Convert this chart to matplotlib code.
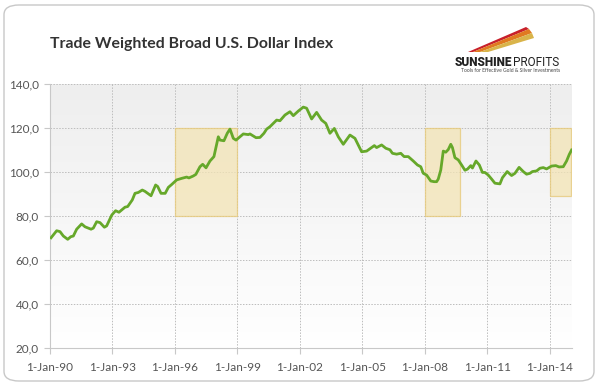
import numpy as np
import matplotlib
matplotlib.use("Agg")
import matplotlib.pyplot as plt
from matplotlib.patches import FancyBboxPatch, Rectangle, Polygon
from matplotlib.colors import LinearSegmentedColormap

# ---- data (decimal year, index value) ----
years = [1990.05, 1990.32, 1990.48, 1990.64, 1990.85, 1991.0, 1991.12, 1991.28, 1991.52, 1991.68,
         1991.97, 1992.08, 1992.24, 1992.4, 1992.61, 1992.72, 1992.97, 1993.15, 1993.31, 1993.6,
         1993.73, 1993.95, 1994.08, 1994.24, 1994.43, 1994.56, 1994.85, 1995.07, 1995.17, 1995.33,
         1995.53, 1995.68, 1995.84, 1996.08, 1996.32, 1996.56, 1996.67, 1996.88, 1997.0, 1997.2,
         1997.33, 1997.49, 1997.68, 1997.87, 1998.08, 1998.16, 1998.35, 1998.51, 1998.64, 1998.8,
         1998.93, 1999.12, 1999.28, 1999.52, 1999.6, 1999.89, 2000.08, 2000.27, 2000.4, 2000.56,
         2000.88, 2001.04, 2001.28, 2001.52, 2001.68, 2001.92, 2002.16, 2002.32, 2002.56, 2002.8,
         2003.04, 2003.24, 2003.44, 2003.65, 2003.84, 2004.08, 2004.4, 2004.64, 2004.96, 2005.2,
         2005.57, 2005.68, 2005.92, 2006.12, 2006.32, 2006.44, 2006.64, 2006.84, 2007.0, 2007.2,
         2007.44, 2007.64, 2007.8, 2007.92, 2008.08, 2008.28, 2008.44, 2008.56, 2008.64, 2008.76,
         2008.88, 2009.0, 2009.12, 2009.24, 2009.32, 2009.44, 2009.6, 2009.76, 2009.92, 2010.04,
         2010.2, 2010.28, 2010.45, 2010.61, 2010.76, 2010.88, 2011.04, 2011.2, 2011.36, 2011.6,
         2011.72, 2011.95, 2012.16, 2012.32, 2012.52, 2012.72, 2012.88, 2013.04, 2013.16, 2013.36,
         2013.52, 2013.68, 2013.84, 2014.08, 2014.28, 2014.44, 2014.64, 2014.8, 2014.93, 2015.04]
values = [70.1, 73.3, 72.9, 70.9, 69.4, 70.6, 70.9, 74.0, 76.4, 75.1,
          74.0, 74.5, 77.4, 77.0, 74.9, 75.5, 80.5, 82.4, 81.7, 84.0,
          84.3, 87.3, 90.3, 90.7, 91.8, 91.2, 89.2, 94.1, 93.4, 90.3,
          90.3, 93.0, 94.3, 96.4, 97.1, 97.7, 97.3, 98.2, 98.9, 102.4,
          103.5, 101.9, 105.0, 107.0, 116.0, 114.5, 114.2, 117.6, 119.5, 115.3,
          114.5, 116.0, 117.3, 117.0, 117.3, 115.6, 115.7, 117.6, 119.5, 120.6,
          123.6, 123.3, 125.9, 127.4, 125.6, 127.7, 129.5, 129.0, 124.1, 127.1,
          123.6, 122.1, 117.6, 119.8, 116.0, 112.6, 116.8, 115.3, 109.2, 109.5,
          112.0, 111.1, 112.3, 110.8, 110.1, 108.5, 108.1, 108.5, 107.0, 107.0,
          105.0, 103.2, 102.4, 99.4, 98.6, 95.9, 95.6, 95.6, 96.8, 100.9,
          109.5, 109.0, 110.2, 112.6, 111.1, 106.5, 105.5, 103.2, 100.8, 101.3,
          102.9, 101.8, 105.0, 103.2, 99.8, 99.8, 98.6, 96.8, 94.9, 94.6,
          97.4, 100.2, 98.4, 99.4, 102.1, 100.2, 99.0, 99.4, 100.2, 100.5,
          101.7, 102.0, 101.4, 102.7, 102.9, 102.3, 102.4, 105.0, 108.0, 110.0]

# highlighted periods: (start year, end year, low value, high value)
box_start = [1996.0, 2008.0, 2014.0]
box_end = [1999.0, 2009.7, 2015.03]
box_low = [80, 80, 89]
box_high = [120, 120, 120]

tick_years = [1990, 1993, 1996, 1999, 2002, 2005, 2008, 2011, 2014]
tick_labels = ["1-Jan-90", "1-Jan-93", "1-Jan-96", "1-Jan-99", "1-Jan-02",
               "1-Jan-05", "1-Jan-08", "1-Jan-11", "1-Jan-14"]
y_ticks = [20, 40, 60, 80, 100, 120, 140]
y_labels = ["20,0", "40,0", "60,0", "80,0", "100,0", "120,0", "140,0"]

title = "Trade Weighted Broad U.S. Dollar Index"

plt.rcParams['font.family'] = ['Lato', 'DejaVu Sans']

fig = plt.figure(figsize=(6.0, 3.85), dpi=100)
fig.patch.set_facecolor("white")

# rounded frame
frame = FancyBboxPatch((4/600, 4/385), 590/600, 376/385,
                       boxstyle="round,pad=0,rounding_size=0.025",
                       transform=fig.transFigure, facecolor="none",
                       edgecolor="#c8c8c8", linewidth=1.0, zorder=0)
fig.patches.append(frame)

ax = fig.add_axes([50/600, 1 - 348/385, 522/600, 264/385])
ax.set_xlim(1990, 2015.06)
ax.set_ylim(20, 140)

# gradient background
grad = np.linspace(0, 1, 256).reshape(-1, 1)
cmap = LinearSegmentedColormap.from_list("bg", ["#ffffff", "#eeeeee"])
ax.imshow(grad, extent=[0, 1, 0, 1], transform=ax.transAxes, cmap=cmap,
          aspect="auto", origin="lower", zorder=0)

# grid
for yt in y_ticks[1:]:
    ax.axhline(yt, color="#bdbdbd", lw=0.7, ls=(0, (1.5, 1.5)), zorder=1)
for xt in tick_years[1:]:
    ax.axvline(xt, color="#bdbdbd", lw=0.7, ls=(0, (1.5, 1.5)), zorder=1)

# boxes
for s, e, lo, hi in zip(box_start, box_end, box_low, box_high):
    ax.add_patch(Rectangle((s, lo), e - s, hi - lo, facecolor="#f3e4b5",
                           edgecolor="#e6c877", lw=0.9, alpha=0.75, zorder=2))

ax.plot(years, values, color="#66a82a", lw=2.0, zorder=3, solid_joinstyle="round")

for sp in ["top", "right"]:
    ax.spines[sp].set_visible(False)
ax.spines["left"].set_color("#c8c8c8")
ax.spines["bottom"].set_color("#c8c8c8")
ax.spines["left"].set_linewidth(0.8)
ax.spines["bottom"].set_linewidth(0.8)

ax.set_xticks(tick_years)
ax.set_xticklabels(tick_labels)
ax.set_yticks(y_ticks)
ax.set_yticklabels(y_labels)
ax.tick_params(axis="both", colors="#c8c8c8", labelcolor="#555555", labelsize=8.5,
               length=4, width=0.8)
ax.tick_params(axis="x", pad=6)
ax.tick_params(axis="y", pad=4)

fig.text(50/600, 1 - 44/385, title, fontsize=11.4, fontweight="bold", color="#333333",
         ha="left", va="center")

# logo
fig.text(512/600, 1 - 63/385, "SUNSHINE", fontsize=8.5, fontweight="heavy",
         color="#222222", ha="right", va="center", family=["Roboto", "DejaVu Sans"])
fig.text(513/600, 1 - 63/385, "PROFITS", fontsize=8.5, color="#222222",
         ha="left", va="center", family=["Roboto", "DejaVu Sans"])
fig.text(511/600, 1 - 71/385, "Tools for Effective Gold & Silver Investments",
         fontsize=3.6, color="#444444", ha="center", va="center")
streaks = [
    ([(468, 52), (526, 27), (529, 29), (473, 52)], "#c8202a"),
    ([(473, 52), (529, 29), (532, 33), (480, 52)], "#e07a20"),
    ([(480, 52), (532, 33), (534, 38), (488, 52)], "#d9b44a"),
]
for pts, c in streaks:
    poly = Polygon([(x/600, 1 - y/385) for x, y in pts], closed=True,
                   transform=fig.transFigure, facecolor=c, edgecolor="none")
    fig.patches.append(poly)

fig.savefig("out.png", dpi=100)
